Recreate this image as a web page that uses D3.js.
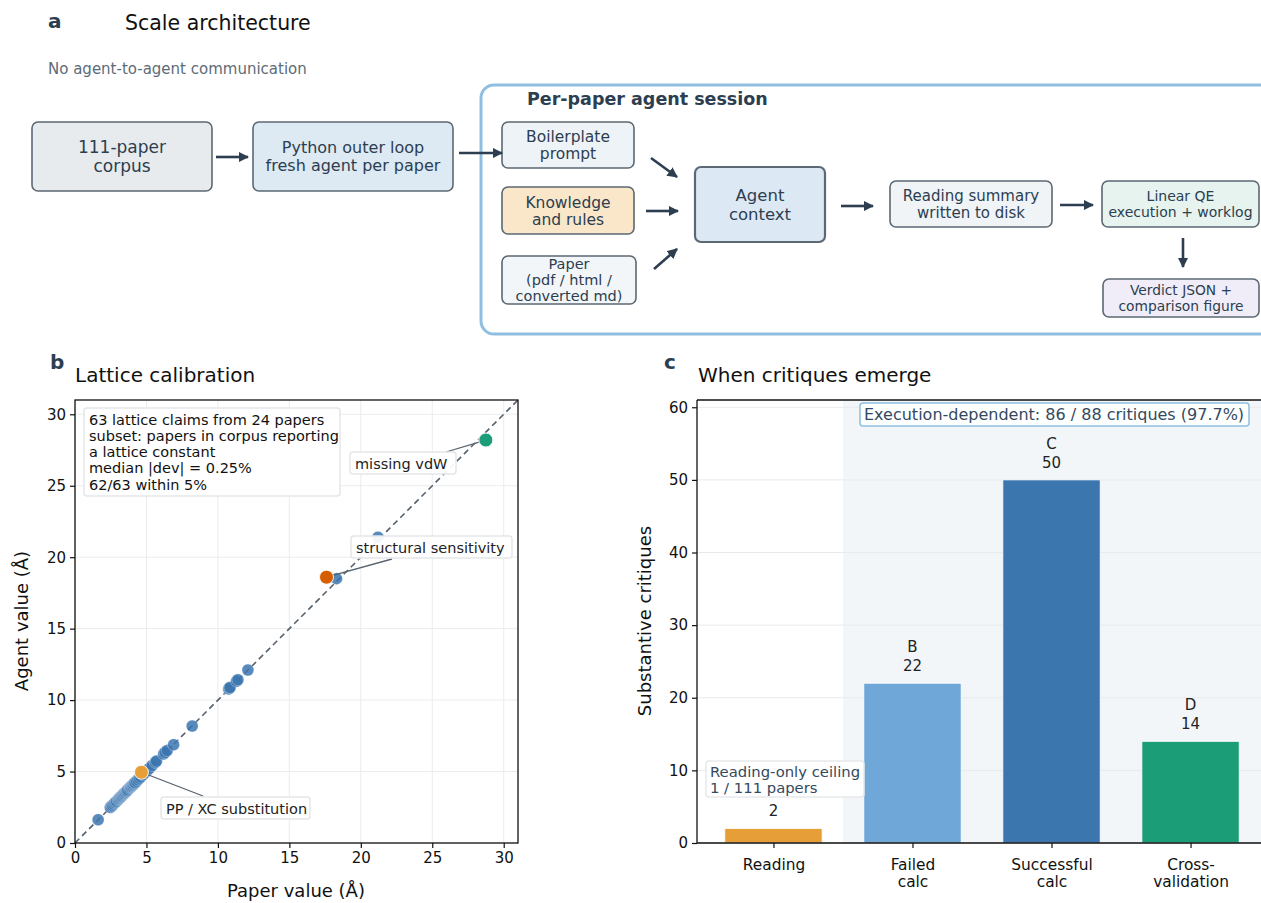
<!DOCTYPE html>
<html><head><meta charset="utf-8">
<script src="https://cdn.jsdelivr.net/npm/d3@7"></script>
<style>
body{margin:0;background:#fff;}
svg{font-family:"DejaVu Sans",sans-serif;display:block;}
</style></head>
<body><svg id="c" width="1261" height="903"></svg>
<script>
// ---------- DATA ----------
const paperVals = [1.62,2.47,2.55,2.62,2.7,2.78,2.85,2.9,3.0,3.05,3.1,3.15,3.2,3.25,3.3,3.35,3.4,3.45,3.5,3.55,3.6,3.65,3.7,3.8,3.87,3.9,3.95,4.0,4.05,4.1,4.16,4.2,4.3,4.4,4.5,4.6,4.75,4.9,5.05,5.2,5.4,5.62,5.7,6.2,6.3,6.45,6.9,8.2,10.75,10.8,10.85,11.3,11.4,12.1,18.3,21.2];
const agentVals = [1.63,2.48,2.56,2.63,2.72,2.8,2.86,2.92,3.01,3.07,3.11,3.17,3.22,3.26,3.31,3.37,3.42,3.46,3.52,3.56,3.62,3.66,3.72,3.82,3.88,3.92,3.96,4.02,4.06,4.12,4.17,4.22,4.31,4.42,4.52,4.62,4.77,4.92,5.07,5.22,5.42,5.64,5.73,6.22,6.33,6.47,6.88,8.18,10.77,10.84,10.88,11.32,11.42,12.1,18.5,21.4];
const outlierLabels = ["PP / XC substitution","structural sensitivity","missing vdW"];
const outlierPaper = [4.65,17.6,28.75];
const outlierAgent = [4.95,18.6,28.2];
const statsLines = ["63 lattice claims from 24 papers","subset: papers in corpus reporting","a lattice constant","median |dev| = 0.25%","62/63 within 5%"];
const latticeTicks = [0,5,10,15,20,25,30];

const barCats = [["Reading"],["Failed","calc"],["Successful","calc"],["Cross-","validation"]];
const barVals = [2,22,50,14];
const barLetters = ["","B","C","D"];
const critTicks = [0,10,20,30,40,50,60];

// ---------- STYLE ----------
const dark = "#2c3e50";
const svg = d3.select("#c");
const outlierColors = ["#e69f38","#d55e00","#1b9e77"];
const barColors = ["#e69f38","#6fa8d8","#3b76ae","#1b9e77"];

const defs = svg.append("defs");
defs.append("marker").attr("id","ah").attr("viewBox","0 0 10 10").attr("refX",9).attr("refY",5)
  .attr("markerWidth",4).attr("markerHeight",4).attr("orient","auto").attr("markerUnits","strokeWidth")
  .append("path").attr("d","M0,0 L10,5 L0,10 z").attr("fill",dark);

// ---------- PANEL A ----------
svg.append("text").attr("x",48).attr("y",28).attr("font-size",20).attr("font-weight","bold").attr("fill",dark).text("a");
svg.append("text").attr("x",125).attr("y",30).attr("font-size",20.5).attr("fill","#111").text("Scale architecture");
svg.append("text").attr("x",48).attr("y",74).attr("font-size",15).attr("fill","#5d6b78").text("No agent-to-agent communication");

svg.append("rect").attr("x",481).attr("y",85).attr("width",800).attr("height",249).attr("rx",13)
  .attr("fill","none").attr("stroke","#8fbfe0").attr("stroke-width",3);
svg.append("text").attr("x",527).attr("y",105).attr("font-size",17.5).attr("font-weight","bold").attr("fill",dark).text("Per-paper agent session");

function box(x,y,w,h,fill,lines,fs,sw){
  svg.append("rect").attr("x",x).attr("y",y).attr("width",w).attr("height",h).attr("rx",6)
    .attr("fill",fill).attr("stroke","#5c6873").attr("stroke-width",sw||1.6);
  const lh = fs*1.1;
  const t = svg.append("text").attr("font-size",fs).attr("fill",dark).attr("text-anchor","middle");
  const y0 = y + h/2 - (lines.length-1)*lh/2 + fs*0.36;
  lines.forEach((l,i)=>t.append("tspan").attr("x",x+w/2).attr("y",y0+i*lh).text(l));
}
function arrow(x1,y1,x2,y2){
  svg.append("line").attr("x1",x1).attr("y1",y1).attr("x2",x2).attr("y2",y2)
    .attr("stroke",dark).attr("stroke-width",2.6).attr("marker-end","url(#ah)");
}
box(32,122,180,69,"#e8ebee",["111-paper","corpus"],17);
box(253,122,200,69,"#dde9f3",["Python outer loop","fresh agent per paper"],16);
box(502,122,132,46,"#eef3f7",["Boilerplate","prompt"],15.5);
box(502,187,132,47,"#fae6c8",["Knowledge","and rules"],15.5);
box(502,256,134,48,"#f2f6f9",["Paper","(pdf / html /","converted md)"],14.5);
box(695,167,130,75,"#dce9f4",["Agent","context"],16.5,2.2);
box(890,181,162,46,"#f0f4f7",["Reading summary","written to disk"],15);
box(1102,181,157,46,"#e6f3ee",["Linear QE","execution + worklog"],14);
box(1103,279,156,38,"#f0edf8",["Verdict JSON +","comparison figure"],13.8);
arrow(216,157,248,157);
arrow(459,153,502,153);
arrow(651,158,677,177);
arrow(646,211,678,211);
arrow(654,269,677,249);
arrow(841,206,873,206);
arrow(1060,205,1093,205);
arrow(1183,238,1183,267);

// ---------- PANEL B ----------
svg.append("text").attr("x",50).attr("y",369).attr("font-size",20).attr("font-weight","bold").attr("fill",dark).text("b");
svg.append("text").attr("x",75).attr("y",382).attr("font-size",20).attr("fill","#111").text("Lattice calibration");

const xB = d3.scaleLinear([0,31],[75,518]);
const yB = d3.scaleLinear([0,31],[843,400]);
const gB = svg.append("g");
gB.selectAll(".gx").data(latticeTicks).join("line").attr("x1",d=>xB(d)).attr("x2",d=>xB(d)).attr("y1",400).attr("y2",843).attr("stroke","#ececec").attr("stroke-width",1);
gB.selectAll(".gy").data(latticeTicks).join("line").attr("y1",d=>yB(d)).attr("y2",d=>yB(d)).attr("x1",75).attr("x2",518).attr("stroke","#ececec").attr("stroke-width",1);
gB.append("line").attr("x1",xB(0)).attr("y1",yB(0)).attr("x2",xB(31)).attr("y2",yB(31))
  .attr("stroke","#56626d").attr("stroke-width",1.6).attr("stroke-dasharray","6,4");
gB.selectAll(".pt").data(paperVals.map((p,i)=>[p,agentVals[i]])).join("circle")
  .attr("cx",d=>xB(d[0])).attr("cy",d=>yB(d[1])).attr("r",6)
  .attr("fill","#3b75b0").attr("fill-opacity",0.85).attr("stroke","#fff").attr("stroke-opacity",0.45).attr("stroke-width",0.7);
function labelBox(g,x,y,w,h,lines,fs,stroke,color,lh){
  g.append("rect").attr("x",x).attr("y",y).attr("width",w).attr("height",h).attr("rx",3)
    .attr("fill","#fff").attr("fill-opacity",0.93).attr("stroke",stroke).attr("stroke-width",1.5);
  const t = g.append("text").attr("font-size",fs).attr("fill",color);
  lines.forEach((l,i)=>t.append("tspan").attr("x",x+5).attr("y",y+fs+2+i*(lh||fs*1.2)).text(l));
}
const outLab = [
  {bx:161,by:797,bw:149,bh:22,lx:203,ly:796},
  {bx:351,by:536,bw:161,bh:22,lx:392,ly:559},
  {bx:350,by:452,bw:106,bh:22,lx:446,ly:452}
];
outLab.forEach((o,i)=>{
  gB.append("line").attr("x1",o.lx).attr("y1",o.ly).attr("x2",xB(outlierPaper[i])).attr("y2",yB(outlierAgent[i]))
    .attr("stroke","#56626d").attr("stroke-width",1.3);
});
gB.selectAll(".op").data(outlierPaper.map((p,i)=>[p,outlierAgent[i],i])).join("circle")
  .attr("cx",d=>xB(d[0])).attr("cy",d=>yB(d[1])).attr("r",7)
  .attr("fill",d=>outlierColors[d[2]]).attr("stroke","#fff").attr("stroke-width",0.9);
outLab.forEach((o,i)=>labelBox(gB,o.bx,o.by,o.bw,o.bh,[outlierLabels[i]],14.5,"#e3e6e9","#222"));
labelBox(gB,84,408,256,88,statsLines,14.5,"#e3e6e9","#111",16.3);
gB.append("rect").attr("x",75).attr("y",400).attr("width",443).attr("height",443).attr("fill","none").attr("stroke","#111").attr("stroke-width",1.3);
function styleAxis(g){
  g.selectAll("path").remove();
  g.selectAll("line").attr("stroke","#111").attr("stroke-width",1.2);
  g.selectAll("text").attr("font-size",15).attr("fill","#111").attr("font-family","DejaVu Sans");
}
svg.append("g").attr("transform","translate(0,843)").call(d3.axisBottom(xB).tickValues(latticeTicks).tickSize(5).tickPadding(4)).call(styleAxis);
svg.append("g").attr("transform","translate(75,0)").call(d3.axisLeft(yB).tickValues(latticeTicks).tickSize(5).tickPadding(4)).call(styleAxis);
svg.append("text").attr("x",296).attr("y",897).attr("text-anchor","middle").attr("font-size",18).attr("fill","#111").text("Paper value (Å)");
svg.append("text").attr("transform","translate(28,621) rotate(-90)").attr("text-anchor","middle").attr("font-size",18).attr("fill","#111").text("Agent value (Å)");

// ---------- PANEL C ----------
svg.append("text").attr("x",664).attr("y",369).attr("font-size",20).attr("font-weight","bold").attr("fill",dark).text("c");
svg.append("text").attr("x",698).attr("y",382).attr("font-size",20).attr("fill","#111").text("When critiques emerge");

const xC = d3.scaleLinear([-0.55,3.55],[697,1267]);
const yC = d3.scaleLinear([0,61],[843,400]);
const gC = svg.append("g");
gC.append("rect").attr("x",xC(0.5)).attr("y",400).attr("width",xC(3.55)-xC(0.5)).attr("height",443).attr("fill","#f3f6f9");
gC.selectAll(".gy").data(critTicks).join("line").attr("y1",d=>yC(d)).attr("y2",d=>yC(d)).attr("x1",697).attr("x2",1267).attr("stroke","#e8eaec").attr("stroke-width",1);
gC.selectAll(".bar").data(barVals).join("rect")
  .attr("x",(d,i)=>xC(i-0.35)).attr("width",xC(0.35)-xC(-0.35))
  .attr("y",d=>yC(d)).attr("height",d=>yC(0)-yC(d))
  .attr("fill",(d,i)=>barColors[i]).attr("stroke","#fff").attr("stroke-width",0.8);
gC.selectAll(".bv").data(barVals).join("text").attr("x",(d,i)=>xC(i)).attr("y",d=>yC(d)-12)
  .attr("text-anchor","middle").attr("font-size",15).attr("fill","#222").text(d=>d);
gC.selectAll(".bl").data(barLetters).join("text").attr("x",(d,i)=>xC(i)).attr("y",(d,i)=>yC(barVals[i])-31)
  .attr("text-anchor","middle").attr("font-size",15).attr("fill","#222").text(d=>d);
function cBox(x,y,w,h,lines,fs,stroke){
  gC.append("rect").attr("x",x).attr("y",y).attr("width",w).attr("height",h).attr("rx",3)
    .attr("fill","#fff").attr("fill-opacity",0.92).attr("stroke",stroke).attr("stroke-width",1.5);
  const t = gC.append("text").attr("font-size",fs).attr("fill","#34495e");
  lines.forEach((l,i)=>t.append("tspan").attr("x",x+4).attr("y",y+fs+1+i*fs*1.12).text(l));
}
cBox(860,403,389,23,["Execution-dependent: 86 / 88 critiques (97.7%)"],16,"#8fbfe0");
cBox(706,761,158,36,["Reading-only ceiling","1 / 111 papers"],14.8,"#e6e9ec");
gC.append("line").attr("x1",697).attr("x2",1267).attr("y1",400).attr("y2",400).attr("stroke","#111").attr("stroke-width",1.3);
gC.append("line").attr("x1",697).attr("x2",1267).attr("y1",843).attr("y2",843).attr("stroke","#111").attr("stroke-width",1.3);
gC.append("line").attr("x1",697).attr("x2",697).attr("y1",400).attr("y2",843).attr("stroke","#111").attr("stroke-width",1.3);
svg.append("g").attr("transform","translate(697,0)").call(d3.axisLeft(yC).tickValues(critTicks).tickSize(5).tickPadding(4)).call(styleAxis);
const xAx = svg.append("g").attr("transform","translate(0,843)").call(d3.axisBottom(xC).tickValues([0,1,2,3]).tickSize(5).tickFormat("")).call(styleAxis);
xAx.selectAll(".tick").each(function(d){
  const t = d3.select(this).append("text").attr("font-size",15.4).attr("fill","#111").attr("text-anchor","middle").attr("font-family","DejaVu Sans");
  barCats[d].forEach((l,i)=>t.append("tspan").attr("x",0).attr("y",27+i*17).text(l));
});
svg.append("text").attr("transform","translate(651,621) rotate(-90)").attr("text-anchor","middle").attr("font-size",18).attr("fill","#111").text("Substantive critiques");
</script></body></html>
